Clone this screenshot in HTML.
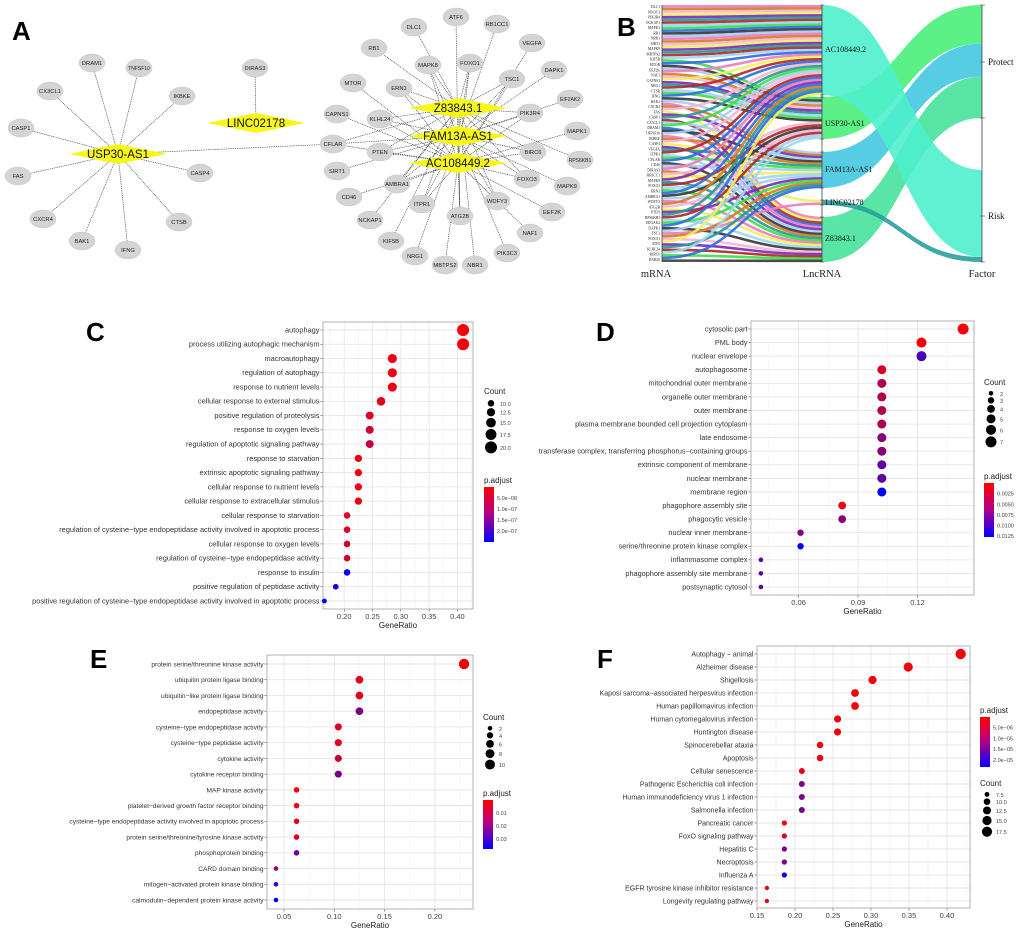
<!DOCTYPE html>
<html><head><meta charset="utf-8">
<style>
html,body{margin:0;padding:0;background:#fff;}
svg{display:block;font-family:"Liberation Sans",sans-serif;}
.lbl{font-size:7px;fill:#333;}
.tick{font-size:7.5px;fill:#444;}
.ttl{font-size:8px;fill:#222;}
.pl{font-size:26px;font-weight:bold;fill:#000;}
</style></head>
<body>
<svg id="fig" width="1020" height="930" viewBox="0 0 1020 930">
<text class="pl" x="12" y="40">A</text>
<text class="pl" x="617" y="36">B</text>
<text class="pl" x="86" y="341">C</text>
<text class="pl" x="596" y="341">D</text>
<text class="pl" x="90" y="668">E</text>
<text class="pl" x="597" y="668">F</text>
<g id="net"></g>
<g id="sankey"></g>
<g id="pc"></g>
<g id="pd"></g>
<g id="pe"></g>
<g id="pf"></g>
</svg>
<script>
// ---------- Panel C data ----------
const cTerms=["autophagy","process utilizing autophagic mechanism","macroautophagy","regulation of autophagy","response to nutrient levels","cellular response to external stimulus","positive regulation of proteolysis","response to oxygen levels","regulation of apoptotic signaling pathway","response to starvation","extrinsic apoptotic signaling pathway","cellular response to nutrient levels","cellular response to extracellular stimulus","cellular response to starvation","regulation of cysteine\u2212type endopeptidase activity involved in apoptotic process","cellular response to oxygen levels","regulation of cysteine\u2212type endopeptidase activity","response to insulin","positive regulation of peptidase activity","positive regulation of cysteine\u2212type endopeptidase activity involved in apoptotic process"];
const cRatio=[0.41,0.41,0.285,0.285,0.285,0.265,0.245,0.245,0.245,0.225,0.225,0.225,0.225,0.205,0.205,0.205,0.205,0.205,0.185,0.165];
const cCount=[20,20,14,14,14,13,12,12,12,11,11,11,11,10,10,10,10,10,9,8];
const cPadj=[1e-8,1e-8,2e-8,2e-8,2e-8,3e-8,3e-8,5e-8,6e-8,2e-8,2e-8,2e-8,2e-8,3e-8,4e-8,5e-8,5e-8,2.35e-7,2.3e-7,2.5e-7];
const cXTicks=[0.20,0.25,0.30,0.35,0.40];
const cCountTicks=[10,12.5,15,17.5,20];
const cCountLabels=["10.0","12.5","15.0","17.5","20.0"];
const cPTicks=[5e-8,1e-7,1.5e-7,2e-7];
const cPLabels=["5.0e\u221208","1.0e\u221207","1.5e\u221207","2.0e\u221207"];
// ---------- Panel D data ----------
const dTerms=["cytosolic part","PML body","nuclear envelope","autophagosome","mitochondrial outer membrane","organelle outer membrane","outer membrane","plasma membrane bounded cell projection cytoplasm","late endosome","transferase complex, transferring phosphorus\u2212containing groups","extrinsic component of membrane","nuclear membrane","membrane region","phagophore assembly site","phagocytic vesicle","nuclear inner membrane","serine/threonine protein kinase complex","inflammasome complex","phagophore assembly site membrane","postsynaptic cytosol"];
const dRatio=[0.143,0.122,0.122,0.102,0.102,0.102,0.102,0.102,0.102,0.102,0.102,0.102,0.102,0.082,0.082,0.061,0.061,0.041,0.041,0.041];
const dCount=[7,6,6,5,5,5,5,5,5,5,5,5,5,4,4,3,3,2,2,2];
const dPadj=[0.0005,0.0005,0.009,0.002,0.004,0.004,0.004,0.004,0.006,0.006,0.008,0.008,0.0127,0.001,0.006,0.006,0.0127,0.008,0.008,0.008];
const dXTicks=[0.06,0.09,0.12];
const dCountTicks=[2,3,4,5,6,7];
const dCountLabels=["2","3","4","5","6","7"];
const dPTicks=[0.0025,0.005,0.0075,0.01,0.0125];
const dPLabels=["0.0025","0.0050","0.0075","0.0100","0.0125"];
// ---------- Panel E data ----------
const eTerms=["protein serine/threonine kinase activity","ubiquitin protein ligase binding","ubiquitin\u2212like protein ligase binding","endopeptidase activity","cysteine\u2212type endopeptidase activity","cysteine\u2212type peptidase activity","cytokine activity","cytokine receptor binding","MAP kinase activity","platelet\u2212derived growth factor receptor binding","cysteine\u2212type endopeptidase activity involved in apoptotic process","protein serine/threonine/tyrosine kinase activity","phosphoprotein binding","CARD domain binding","mitogen\u2212activated protein kinase binding","calmodulin\u2212dependent protein kinase activity"];
const eRatio=[0.229,0.125,0.125,0.125,0.104,0.104,0.104,0.104,0.0625,0.0625,0.0625,0.0625,0.0625,0.042,0.042,0.042];
const eCount=[11,6,6,6,5,5,5,5,3,3,3,3,3,2,2,2];
const ePadj=[0.002,0.005,0.005,0.02,0.005,0.005,0.008,0.02,0.003,0.003,0.004,0.005,0.022,0.015,0.03,0.037];
const eXTicks=[0.05,0.10,0.15,0.20];
const eCountTicks=[2,4,6,8,10];
const eCountLabels=["2","4","6","8","10"];
const ePTicks=[0.01,0.02,0.03];
const ePLabels=["0.01","0.02","0.03"];
// ---------- Panel F data ----------
const fTerms=["Autophagy \u2212 animal","Alzheimer disease","Shigellosis","Kaposi sarcoma\u2212associated herpesvirus infection","Human papillomavirus infection","Human cytomegalovirus infection","Huntington disease","Spinocerebellar ataxia","Apoptosis","Cellular senescence","Pathogenic Escherichia coli infection","Human immunodeficiency virus 1 infection","Salmonella infection","Pancreatic cancer","FoxO signaling pathway","Hepatitis C","Necroptosis","Influenza A","EGFR tyrosine kinase inhibitor resistance","Longevity regulating pathway"];
const fRatio=[0.418,0.349,0.302,0.279,0.279,0.256,0.256,0.233,0.233,0.209,0.209,0.209,0.209,0.186,0.186,0.186,0.186,0.186,0.163,0.163];
const fCount=[18,15,13,12,12,11,11,10,10,9,9,9,9,8,8,8,8,8,7,7];
const fPadj=[1e-6,1e-6,1e-6,1e-6,1e-6,1e-6,1e-6,1.5e-6,1.5e-6,2e-6,1.2e-5,1.2e-5,1.3e-5,1e-6,3e-6,1.2e-5,1.2e-5,2.3e-5,3e-6,3e-6];
const fXTicks=[0.15,0.20,0.25,0.30,0.35,0.40];
const fCountTicks=[7.5,10,12.5,15,17.5];
const fCountLabels=["7.5","10.0","12.5","15.0","17.5"];
const fPTicks=[5e-6,1e-5,1.5e-5,2e-5];
const fPLabels=["5.0e\u221206","1.0e\u221205","1.5e\u221205","2.0e\u221205"];

// ---------- Sankey data ----------
const lncNames=["AC108449.2","USP30-AS1","FAM13A-AS1","LINC02178","Z83843.1"];
const linkTarget=[0,0,0,0,0,0,0,0,0,0,0,0,0,0,0,0,0,0,0,0,
1,0,1,1,0,1,1,0,1,1,0,1,1,0,1,
2,4,2,0,4,2,0,4,2,0,4,2,0,4,2,0,3,4,2,0,
4,2,0,4,2,0,4,1,2,0,4,1,2,4,0,1,2,4,0,1,
4,2,0,1,4,2,0,4,1,3,2,4,0,4,2,4,1,4,2,4];
const factorNames=["Protect","Risk"];
const flowLnc=[1,2,4,0,3];
const flowFactor=[0,0,0,1,1];
const flowWeight=[42,36,45,88,4];
const mrnaNames=["DLC1","PIK3C3","PIK3R4","NCKAP1","MAPK1","RB1","NBR1","SIRT1","MAPK9","MBTPS2","KIF5B","MTOR","EEF2K","NAF1","CAPNS1","NRG1","CTSB","IFNG","BAK1","CXCR4","FAS","CASP1","CX3CL1","DRAM1","TNFSF10","IKBKE","CASP4","VEGFA","ITPR1","CFLAR","CD46","DIRAS3","RB1CC1","MAPK8","FOXO3","ERN1","AMBRA1","WDFY3","ATG2B","PTEN","RPS6KB1","EIF2AK2","DAPK1","TSC1","FOXO1","ATF6","KLHL24","BIRC6","RAB30"];

const NS="http://www.w3.org/2000/svg";
function mk(parent,tag,attrs){const e=document.createElementNS(NS,tag);for(const k in attrs)e.setAttribute(k,attrs[k]);parent.appendChild(e);return e;}
function txt(parent,s,attrs){const e=mk(parent,"text",attrs);e.textContent=s;return e;}
function pcol(p,pmax){let t=Math.max(0,Math.min(1,p/pmax));return "rgb("+Math.round(255*(1-t))+",0,"+Math.round(255*t)+")";}

function dotplot(g,terms,ratio,count,padj,xticks,cTicks,cLabels,pTicks,pLabels,L){
  const sx=v=>L.x0+(v-L.dom[0])/(L.dom[1]-L.dom[0])*(L.x1-L.x0);
  const n=terms.length;
  const sy=i=>L.ry0+i*(L.ry1-L.ry0)/(n-1);
  const rr=c=>Math.sqrt(L.rmin*L.rmin+(c-L.cmin)/(L.cmax-L.cmin)*(L.rmax*L.rmax-L.rmin*L.rmin));
  let bg=mk(g,"rect",{x:L.x0,y:L.y0,width:L.x1-L.x0,height:L.y1-L.y0,fill:"#fff"});
  
  
  for(let k=0;k<xticks.length;k++){
    const x=sx(xticks[k]);
    let gl=mk(g,"line",{x1:x,x2:x,y1:L.y0,y2:L.y1,stroke:"#e6e6e6","stroke-width":0.9});
    
    
    const step=k+1<xticks.length?xticks[k+1]-xticks[k]:xticks[1]-xticks[0];
    [xticks[k]-step/2,xticks[k]+step/2].forEach(m=>{const xm=sx(m);if(xm>L.x0&&xm<L.x1){let ml=mk(g,"line",{x1:xm,x2:xm,y1:L.y0,y2:L.y1,stroke:"#f2f2f2","stroke-width":0.5});
      
      }});
    let tl=mk(g,"line",{x1:x,x2:x,y1:L.y1,y2:L.y1+2.5,stroke:"#444","stroke-width":0.6});
    
    
    let tt=txt(g,xticks[k].toFixed(2),{class:"tick",x:x,y:L.y1+10,"text-anchor":"middle"});
    
    
  }
  for(let i=0;i<n;i++){
    const y=sy(i);
    let hl=mk(g,"line",{x1:L.x0,x2:L.x1,y1:y,y2:y,stroke:"#e6e6e6","stroke-width":0.9});
    
    
    let tk=mk(g,"line",{x1:L.x0-2.5,x2:L.x0,y1:y,y2:y,stroke:"#444","stroke-width":0.6});
    
    
    let lb=txt(g,terms[i],{class:"lbl",x:L.x0-3.5,y:y+2.4,"text-anchor":"end",style:"font-size:"+L.fs+"px"});
    
    
  }
  let bd=mk(g,"rect",{x:L.x0,y:L.y0,width:L.x1-L.x0,height:L.y1-L.y0,fill:"none",stroke:"#b3b3b3","stroke-width":1});
  
  
  for(let i=0;i<n;i++){
    let c=mk(g,"circle",{cx:sx(ratio[i]),cy:sy(i),r:rr(count[i]),fill:pcol(padj[i],L.pmax)});
    
    
  }
  let at=txt(g,"GeneRatio",{class:"ttl",x:(L.x0+L.x1)/2,y:L.y1+19,"text-anchor":"middle"});
  
  
  let ct=txt(g,"Count",{class:"ttl",x:L.lx,y:L.cy0-6});
  
  
  let yy=L.cy0;
  for(let k=0;k<cTicks.length;k++){
    const r=rr(cTicks[k]);
    yy+= (k===0? r : r+L.cgap);
    let dc=mk(g,"circle",{cx:L.lx+7,cy:yy,r:r,fill:"#000"});
    
    
    let dl=txt(g,cLabels[k],{class:"tick",x:L.lx+16,y:yy+2.5,style:"font-size:5.5px"});
    
    
    yy+=r;
  }
  let pt=txt(g,"p.adjust",{class:"ttl",x:L.lx,y:L.py0-4});
  
  
  const gid="grad"+g.id;
  const defs=mk(g,"defs",{});
  const lg=mk(defs,"linearGradient",{id:gid,x1:0,y1:0,x2:0,y2:1});
  mk(lg,"stop",{offset:"0%","stop-color":"#ff0000"});
  mk(lg,"stop",{offset:"50%","stop-color":"#b0008a"});
  mk(lg,"stop",{offset:"100%","stop-color":"#0000ff"});
  let bar=mk(g,"rect",{x:L.lx,y:L.py0,width:10,height:L.py1-L.py0,fill:"url(#"+gid+")"});
  
  
  for(let k=0;k<pTicks.length;k++){
    const y=L.py0+pTicks[k]/L.pmax*(L.py1-L.py0);
    let pl=txt(g,pLabels[k],{class:"tick",x:L.lx+13,y:y+2,style:"font-size:5.5px"});
    
    
  }
}

dotplot(document.getElementById("pc"),cTerms,cRatio,cCount,cPadj,cXTicks,cCountTicks,cCountLabels,cPTicks,cPLabels,
 {x0:323,x1:473,y0:322,y1:609,dom:[0.1625,0.4275],ry0:330,ry1:601,rmin:2.4,rmax:6,cmin:8,cmax:20,pmax:2.5e-7,lx:484,cy0:400,cgap:1.5,py0:487,py1:542,fs:7.4});
dotplot(document.getElementById("pd"),dTerms,dRatio,dCount,dPadj,dXTicks,dCountTicks,dCountLabels,dPTicks,dPLabels,
 {x0:751,x1:974,y0:321,y1:595,dom:[0.036,0.1485],ry0:329,ry1:587,rmin:2.3,rmax:5.5,cmin:2,cmax:7,pmax:0.0127,lx:984,cy0:391,cgap:1.5,py0:483,py1:537,fs:7.3});
dotplot(document.getElementById("pe"),eTerms,eRatio,eCount,ePadj,eXTicks,eCountTicks,eCountLabels,ePTicks,ePLabels,
 {x0:267,x1:473,y0:655,y1:909,dom:[0.0331,0.2379],ry0:664,ry1:900,rmin:2.3,rmax:5.2,cmin:2,cmax:11,pmax:0.0377,lx:483,cy0:726,cgap:1.5,py0:800,py1:849,fs:6.6});
dotplot(document.getElementById("pf"),fTerms,fRatio,fCount,fPadj,fXTicks,fCountTicks,fCountLabels,fPTicks,fPLabels,
 {x0:757,x1:970,y0:646,y1:908,dom:[0.15,0.4303],ry0:654,ry1:901,rmin:2.2,rmax:5.2,cmin:7,cmax:18,pmax:2.33e-5,lx:980,cy0:792,cgap:1.5,py0:717,py1:767,fs:7});

// ---------- Network ----------
(function(){
  const g=document.getElementById("net");
  const hubs={"USP30-AS1":[118,154],"LINC02178":[256,123],"Z83843.1":[458,108],"FAM13A-AS1":[458,136],"AC108449.2":[458,163]};
  const usp=[["DRAM1",92,63],["TNFSF10",139,68],["CX3CL1",50,91],["IKBKE",182,96],["CASP1",21,128],["FAS",18,176],["CASP4",200,173],["CXCR4",43,219],["CTSB",179,222],["BAK1",82,241],["IFNG",128,250]];
  const clus=[["ATF6",456,17],["DLC1",414,27],["RB1CC1",497,24],["VEGFA",532,43],["RB1",374,48],["MAPK8",428,65],["FOXO1",470,63],["TSC1",512,79],["DAPK1",554,70],["MTOR",353,83],["ERN1",399,88],["EIF2AK2",570,99],["CAPNS1",337,114],["KLHL24",380,119],["PIK3R4",530,113],["MAPK1",577,131],["CFLAR",333,144],["PTEN",380,152],["BIRC6",533,152],["RPS6KB1",580,160],["SIRT1",337,171],["AMBRA1",397,184],["FOXO3",527,179],["MAPK9",567,186],["CD46",349,197],["ITPR1",422,204],["WDFY3",497,201],["EEF2K",552,212],["NCKAP1",370,220],["ATG2B",460,216],["NAF1",530,233],["KIF5B",391,241],["NRG1",415,256],["MBTPS2",445,265],["NBR1",475,265],["PIK3C3",507,253]];
  const E=mk(g,"g",{stroke:"#444","stroke-width":0.7,"stroke-dasharray":"1,0.8"});
  function edge(a,b){let l=mk(E,"line",{x1:a[0],y1:a[1],x2:b[0],y2:b[1]});
    
    }
  usp.forEach(n=>edge(hubs["USP30-AS1"],[n[1],n[2]]));
  edge(hubs["LINC02178"],[255,68]);
  edge(hubs["USP30-AS1"],[333,144]);
  const far=["MAPK1","RPS6KB1","MAPK9","EEF2K","NAF1","VEGFA","EIF2AK2","RB1","MTOR","CAPNS1","SIRT1","CD46","NCKAP1","KIF5B","NRG1","MBTPS2","NBR1","PIK3C3","DLC1","ATF6","RB1CC1","DAPK1"];
  clus.forEach((n,i)=>{
    const hs=far.indexOf(n[0])>=0?[["AC108449.2","Z83843.1","FAM13A-AS1"][i%3]]:["Z83843.1","FAM13A-AS1","AC108449.2"];
    hs.forEach(h=>edge(hubs[h],[n[1],n[2]]));
  });
  function node(name,x,y){
    let e=mk(g,"ellipse",{cx:x,cy:y,rx:13,ry:9,fill:"#d4d4d4",stroke:"#c8c8c8","stroke-width":0.5});
    
    
    let t=txt(g,name,{x:x,y:y+2,"text-anchor":"middle",style:"font-size:"+(name.length>6?5:5.8)+"px;fill:#222"});
    
    
  }
  usp.forEach(n=>node(n[0],n[1],n[2]));
  node("DIRAS3",255,68);
  clus.forEach(n=>node(n[0],n[1],n[2]));
  for(const h in hubs){
    const [x,y]=hubs[h];
    let d=mk(g,"polygon",{points:(x-49)+","+y+" "+x+","+(y-10)+" "+(x+49)+","+y+" "+x+","+(y+10),fill:"#f7f71a"});
    
    
    let t=txt(g,h,{x:x,y:y+4,"text-anchor":"middle",style:"font-size:11.5px;fill:#111"});
    
    
  }
})();

// ---------- Sankey ----------
(function(){
  const g=document.getElementById("sankey");
  const xL=662,xM=822,xR=982,top=5,bot=262;
  const pal=["#f07cc0","#2a9a96","#3a3a3a","#f2f060","#3fe04a","#d08028","#b02a2a","#a8cdf2","#7a2fb8","#2f6fe0","#f5b6d6","#9fd8f0"];
  const lncY0=[5,97,152,200,217],lncY1=[95,139,188,205,262];
  const n=linkTarget.length;
  const per=[0,0,0,0,0];linkTarget.forEach(t=>per[t]++);
  const used=[0,0,0,0,0];
  const lw=(bot-top)/n;
  const Lg=mk(g,"g",{fill:"none"});
  const facY0=[5,118],facY1=[118,262];
  const facUsed=[0,0];
  const flowCols={0:"#4ef0cc",1:"#4af07a",2:"#44c8e0",3:"#2aa09a",4:"#46e29c"};
  const facTot=[0,0];flowWeight.forEach((w,i)=>facTot[flowFactor[i]]+=w);
  for(let i=0;i<flowLnc.length;i++){
    const l=flowLnc[i],f=flowFactor[i];
    const a0=lncY0[l],a1=lncY1[l];
    let b0,b1;
    if(f===0){const h=(facY1[0]-facY0[0])*flowWeight[i]/facTot[0];b0=facY0[0]+facUsed[0];b1=b0+h;facUsed[0]+=h;}
    else{ if(l===0){b0=170;b1=257;} else {b0=257;b1=262;} }
    const mx=(xM+xR)/2;
    let p=mk(g,"path",{d:"M"+xM+","+a0+" C"+mx+","+a0+" "+mx+","+b0+" "+xR+","+b0+" L"+xR+","+b1+" C"+mx+","+b1+" "+mx+","+a1+" "+xM+","+a1+" Z",fill:flowCols[l],opacity:0.9});
    
    
  }
  for(let i=0;i<n;i++){
    const t=linkTarget[i];
    const y0=top+lw*(i+0.5);
    const seg=(lncY1[t]-lncY0[t])/per[t];
    const y1=lncY0[t]+seg*(used[t]+0.5);used[t]++;
    const mx=(xL+xM)/2;
    let p=mk(Lg,"path",{d:"M"+xL+","+y0+" C"+mx+","+y0+" "+mx+","+y1+" "+xM+","+y1,stroke:pal[(i*5)%pal.length],"stroke-width":Math.max(lw,seg)*0.95,opacity:0.92});
    
    
  }
  [xL,xM,xR].forEach(x=>{let a=mk(g,"line",{x1:x,x2:x,y1:top,y2:bot,stroke:"#444","stroke-width":0.8});
    
    });
  lncY0.concat(lncY1).forEach(y=>{let t=mk(g,"line",{x1:xM-2,x2:xM+2,y1:y,y2:y,stroke:"#444","stroke-width":0.6});
    
    });
  [5,118,262,62,216].forEach(y=>{let t=mk(g,"line",{x1:xR-2,x2:xR+3,y1:y,y2:y,stroke:"#444","stroke-width":0.6});
    
    });
  const lncLabY=[52,126,172,205,241];
  lncNames.forEach((s,i)=>{let t=txt(g,s,{x:xM+3,y:lncLabY[i],style:"font-family:'Liberation Serif',serif;font-size:8px;fill:#111"});
    
    });
  const facLabY=[65,219];
  factorNames.forEach((s,i)=>{let t=txt(g,s,{x:xR+6,y:facLabY[i],style:"font-family:'Liberation Serif',serif;font-size:9px;fill:#111"});
    
    });
  mrnaNames.forEach((s,i)=>{let t=txt(g,s,{x:xL-2,y:top+3+i*(bot-top-4)/(mrnaNames.length-1),"text-anchor":"end",style:"font-family:'Liberation Serif',serif;font-size:3.6px;fill:#222"});
    
    });
  [["mRNA",xL-6],["LncRNA",xM],["Factor",xR]].forEach(a=>{let t=txt(g,a[0],{x:a[1],y:277,"text-anchor":"middle",style:"font-family:'Liberation Serif',serif;font-size:10.5px;fill:#222"});
    
    });
})();
</script>
</body></html>
